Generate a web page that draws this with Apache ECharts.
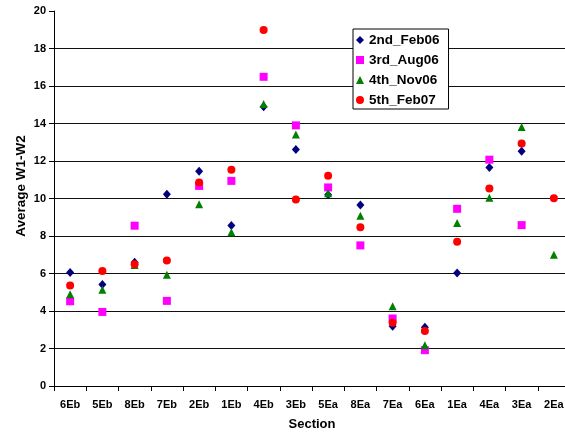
<!DOCTYPE html>
<html><head><meta charset="utf-8">
<script src="https://cdn.jsdelivr.net/npm/echarts@6/dist/echarts.min.js"></script>
<style>html,body{margin:0;padding:0;background:#fff;overflow:hidden}#c{width:565px;height:436px}</style>
</head><body><div id="c"></div>
<script>
const categories = ['6Eb','5Eb','8Eb','7Eb','2Eb','1Eb','4Eb','3Eb','5Ea','8Ea','7Ea','6Ea','1Ea','4Ea','3Ea','2Ea'];
const seriesNames = ['2nd_Feb06','3rd_Aug06','4th_Nov06','5th_Feb07'];
const feb06 = [6.05,5.41,6.6,10.23,11.45,8.56,14.9,12.62,10.2,9.65,3.19,3.14,6.03,11.66,12.52,null];
const aug06 = [4.52,3.95,8.55,4.54,10.67,10.94,16.49,13.9,10.59,7.5,3.6,1.91,9.45,12.07,8.58,null];
const nov06 = [4.9,5.14,6.45,5.94,9.7,8.2,15.04,13.42,10.28,9.08,4.26,2.18,8.69,10.04,13.81,7.0];
const feb07 = [5.36,6.13,6.5,6.7,10.85,11.54,18.99,9.95,11.22,8.47,3.37,2.93,7.7,10.53,12.94,10.02];
const yTicks = [0,2,4,6,8,10,12,14,16,18,20];

const font = '"Liberation Sans", Arial, sans-serif';
const styles = [
  {symbol:'diamond', size:[8,9], color:'#000080'},
  {symbol:'rect', size:8, color:'#FF00FF'},
  {symbol:'triangle', size:8, color:'#008000'},
  {symbol:'circle', size:8, color:'#FF0000'}
];
const values = [feb06, aug06, nov06, feb07];

const chart = echarts.init(document.getElementById('c'), null, {renderer:'canvas', width:565, height:436});
chart.setOption({
  backgroundColor:'#fff',
  animation:false,
  grid:{left:54, right:-5, top:11, bottom:50, containLabel:false, outerBoundsMode:'none'},
  legend:{
    orient:'vertical', left:353, top:29,
    backgroundColor:'#fff', borderColor:'#000', borderWidth:1,
    padding:[4,9,2,3], itemGap:6, itemWidth:8, itemHeight:8,
    textStyle:{fontFamily:font, fontWeight:'bold', fontSize:13.5, color:'#000', lineHeight:14},
    data: seriesNames
  },
  xAxis:{
    type:'category', data:categories, boundaryGap:true,
    name:'Section', nameLocation:'middle', nameGap:32,
    nameTextStyle:{fontFamily:font, fontWeight:'bold', fontSize:13, color:'#000'},
    axisLine:{lineStyle:{color:'#000', width:1}},
    axisTick:{show:true, length:5, lineStyle:{color:'#000'}},
    axisLabel:{fontFamily:font, fontWeight:'bold', fontSize:11, color:'#000', margin:13, interval:0},
    splitLine:{show:false}
  },
  yAxis:{
    type:'value', min:yTicks[0], max:yTicks[yTicks.length-1], interval:2,
    axisLine:{show:true, lineStyle:{color:'#000', width:1}},
    axisTick:{show:true, length:5, lineStyle:{color:'#000'}},
    axisLabel:{fontFamily:font, fontWeight:'bold', fontSize:11, color:'#000', margin:8},
    splitLine:{show:true, showMaxLine:false, lineStyle:{color:'#111', width:1}}
  },
  graphic:[{
    type:'text', x:21, y:186, rotation:Math.PI/2,
    style:{text:'Average W1-W2', fontFamily:font, fontWeight:'bold', fontSize:13.5, fill:'#000', align:'center', verticalAlign:'middle'}
  }],
  series: values.map((v,i)=>({
    name:seriesNames[i], type:'scatter', data:v,
    symbol:styles[i].symbol, symbolSize:styles[i].size,
    itemStyle:{color:styles[i].color, opacity:1},
    z:2+i
  }))
});
</script></body></html>
